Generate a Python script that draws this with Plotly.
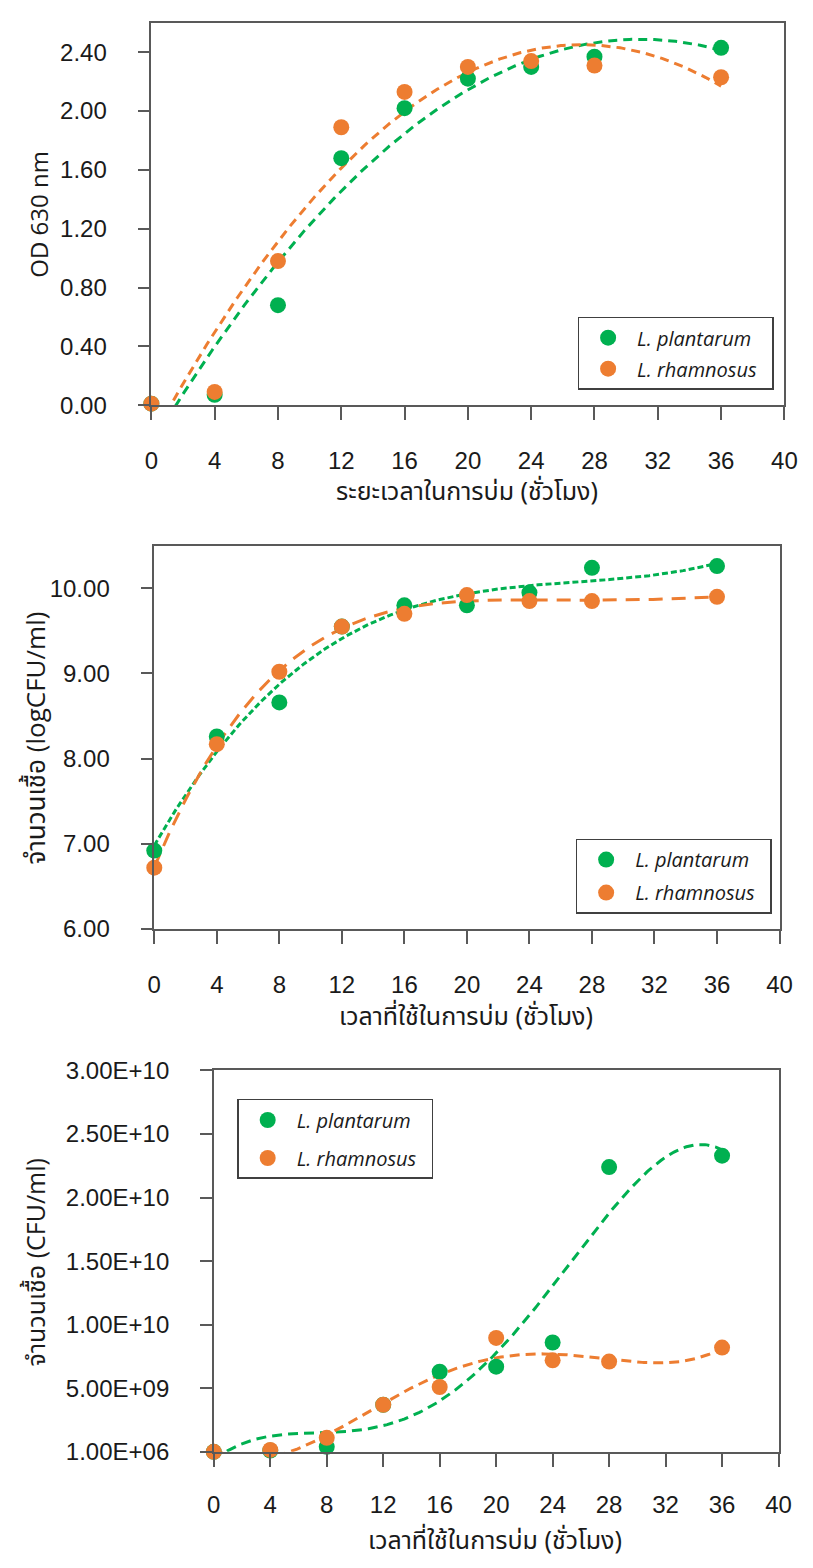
import numpy as np
import plotly.graph_objects as go

# ---------------- data ----------------
hours = [0, 4, 8, 12, 16, 20, 24, 28, 36]

od_plantarum = [0.01, 0.07, 0.68, 1.68, 2.02, 2.22, 2.30, 2.37, 2.43]
od_rhamnosus = [0.01, 0.09, 0.98, 1.89, 2.13, 2.30, 2.34, 2.31, 2.23]

log_plantarum = [6.92, 8.26, 8.66, 9.55, 9.80, 9.80, 9.95, 10.24, 10.26]
log_rhamnosus = [6.72, 8.17, 9.02, 9.55, 9.70, 9.92, 9.85, 9.85, 9.90]

cfu_plantarum = [1.0e6, 0.1e9, 0.39e9, 3.7e9, 6.3e9, 6.7e9, 8.6e9, 22.4e9, 23.3e9]
cfu_rhamnosus = [1.0e6, 0.15e9, 1.1e9, 3.7e9, 5.1e9, 8.96e9, 7.2e9, 7.1e9, 8.2e9]

x_ticks = [0, 4, 8, 12, 16, 20, 24, 28, 32, 36, 40]
od_ticks = [0.0, 0.4, 0.8, 1.2, 1.6, 2.0, 2.4]
log_ticks = [6.0, 7.0, 8.0, 9.0, 10.0]
cfu_ticks = [1.0e6, 5.0e9, 1.0e10, 1.5e10, 2.0e10, 2.5e10, 3.0e10]
cfu_ticktext = ["1.00E+06", "5.00E+09", "1.00E+10", "1.50E+10", "2.00E+10", "2.50E+10", "3.00E+10"]

names = ["<i>L. plantarum</i>&nbsp;&nbsp;", "<i>L. rhamnosus</i>&nbsp;&nbsp;"]
colors = ["#00B050", "#ED7D31"]

x_title_1 = "ระยะเวลาในการบ่ม (ชั่วโมง)"
x_title_23 = "เวลาที่ใช้ในการบ่ม (ชั่วโมง)"
y_title_1 = "OD 630 nm"
y_title_2 = "จำนวนเชื้อ (logCFU/ml)"
y_title_3 = "จำนวนเชื้อ (CFU/ml)"

# polynomial trendline orders (Excel-style)
deg_1 = (2, 2)
deg_2 = (3, 4)
deg_3 = (4, 4)

W, H = 813, 1568
THAI = "Noto Sans Thai, Noto Sans Thai UI, Loma, Garuda, Sarabun, Noto Sans, sans-serif"
NUM = "Liberation Sans, Arial, sans-serif"

fig = go.Figure()


def trend(x, y, deg):
    c = np.polyfit(np.array(x, float), np.array(y, float), deg)
    xs = np.linspace(min(x), max(x), 300)
    return xs, np.polyval(c, xs)


panels = [
    ("x", "y", "legend", od_plantarum, od_rhamnosus, deg_1, ["9px,6px", "9px,6px"]),
    ("x2", "y2", "legend2", log_plantarum, log_rhamnosus, deg_2, ["6px,3px", "14px,9px"]),
    ("x3", "y3", "legend3", cfu_plantarum, cfu_rhamnosus, deg_3, ["10px,6px", "10px,6px"]),
]

for xa, ya, lg, s1, s2, degs, dashes in panels:
    for s, col, d, dash in zip((s1, s2), colors, degs, dashes):
        xs, ys = trend(hours, s, d)
        fig.add_trace(go.Scatter(x=xs, y=ys, mode="lines", xaxis=xa, yaxis=ya,
                                 line=dict(color=col, width=3, dash=dash),
                                 showlegend=False, hoverinfo="skip"))
    for i, (s, col) in enumerate(zip((s1, s2), colors)):
        fig.add_trace(go.Scatter(x=hours, y=s, mode="markers", name=names[i],
                                 xaxis=xa, yaxis=ya, legend=lg, legendgroup=f"{lg}{i}",
                                 marker=dict(color=col, size=16, line=dict(width=0)),
                                 cliponaxis=False))


def px_x(p):
    return p / W


def px_y(p):
    return 1 - p / H


axis_common = dict(showline=True, linecolor="#595959", linewidth=1.5, mirror=True,
                   ticks="outside", tickcolor="#595959", tickwidth=1.5,
                   showgrid=False, zeroline=False,
                   tickfont=dict(family=NUM, size=24, color="#1a1a1a"))

dom = {
    1: dict(x=(148, 797), y=(9, 398)),
    2: dict(x=(151, 792), y=(541, 931)),
    3: dict(x=(212, 791), y=(1075, 1463)),
}

layout = dict(width=W, height=H, margin=dict(l=0, r=0, t=0, b=0),
              paper_bgcolor="white", plot_bgcolor="white", showlegend=True)

for k, key in ((1, ""), (2, "2"), (3, "3")):
    dx = dom[k]["x"]
    dy = dom[k]["y"]
    layout["xaxis" + key] = dict(axis_common, domain=[px_x(dx[0]), px_x(dx[1])],
                                 anchor="y" + key, range=[0, 40], tickvals=x_ticks,
                                 ticklen=13, ticklabelstandoff=20)
    layout["yaxis" + key] = dict(axis_common, domain=[px_y(dy[1]), px_y(dy[0])],
                                 anchor="x" + key, ticklen=12, ticklabelstandoff=26)

layout["xaxis3"].update(ticklabelstandoff=18)
layout["yaxis"].update(range=[0, 2.6], tickvals=od_ticks, ticktext=[f"{v:.2f}" for v in od_ticks])
layout["yaxis2"].update(range=[6, 10.5], tickvals=log_ticks, ticktext=[f"{v:.2f}" for v in log_ticks])
layout["yaxis3"].update(range=[0, 3.0e10], tickvals=cfu_ticks, ticktext=cfu_ticktext)

leg_common = dict(bgcolor="white", bordercolor="#404040", borderwidth=1.5,
                  font=dict(family="Open Sans, sans-serif", size=20, color="#1a1a1a"),
                  xanchor="left", yanchor="top", itemsizing="trace", itemwidth=48)
layout["legend"] = dict(leg_common, x=px_x(585), y=px_y(308), tracegroupgap=2)
layout["legend2"] = dict(leg_common, x=px_x(583), y=px_y(839), tracegroupgap=4)
layout["legend3"] = dict(leg_common, x=px_x(236), y=px_y(1104), tracegroupgap=9)

fig.update_layout(**layout)

ann = []
for txt, cx, cy in ((x_title_1, 472, 486), (x_title_23, 471, 1021), (x_title_23, 500, 1554)):
    ann.append(dict(text=txt, x=px_x(cx), y=px_y(cy), xref="paper", yref="paper",
                    showarrow=False, xanchor="center", yanchor="middle",
                    font=dict(family=THAI, size=25, color="#1a1a1a")))
for txt, cx, cy, fam, sz in ((y_title_1, 32, 204, "Open Sans, sans-serif", 24),
                             (y_title_2, 29, 737, "Open Sans, " + THAI, 26),
                             (y_title_3, 29, 1270, "Open Sans, " + THAI, 25)):
    ann.append(dict(text=txt, x=px_x(cx), y=px_y(cy), xref="paper", yref="paper",
                    showarrow=False, xanchor="center", yanchor="middle", textangle=-90,
                    font=dict(family=fam, size=sz, color="#1a1a1a")))
fig.update_layout(annotations=ann)

fig.write_html("out.html")
